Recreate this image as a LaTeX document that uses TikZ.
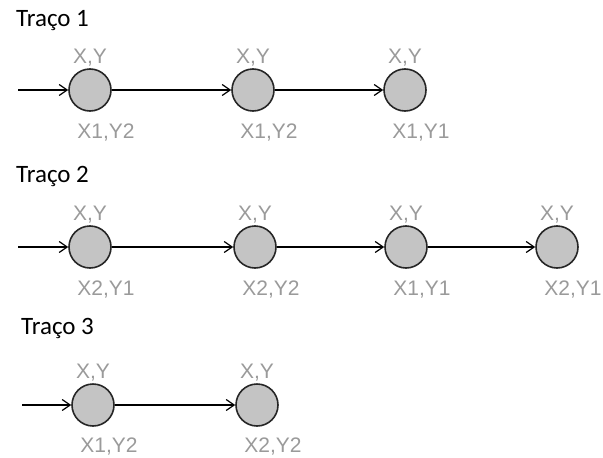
\documentclass[tikz,border=0pt]{standalone}
\usepackage{fontspec}
\setmainfont{Liberation Sans}
\newfontfamily\lblfont{Liberation Sans}
\newfontfamily\titlefont{Carlito}
\usetikzlibrary{arrows.meta}
\definecolor{labelgray}{HTML}{9A9A9A}
\definecolor{statefill}{HTML}{C4C4C4}
\begin{document}
\begin{tikzpicture}[x=1pt,y=-1pt,
  state/.style={circle,draw=black!85,line width=1.6pt,fill=statefill,minimum size=42pt,inner sep=0pt},
  lbl/.style={text=labelgray,font=\lblfont\fontsize{21}{21}\selectfont,inner sep=0pt},
  ttl/.style={font=\titlefont\fontsize{25}{25}\selectfont,inner sep=0pt,anchor=west},
  flow/.style={line width=1.2pt,-{Straight Barb[length=8pt,width=11pt,line width=1.2pt]}}]
\useasboundingbox (0,0) rectangle (603,458);

% Traço 1
\node[ttl] (t1) at (16,21) {Traço 1};
\coordinate (i1) at (18,90);
\foreach \n/\x/\b in {a/90/{X1,Y2}, b/253/{X1,Y2}, c/405/{X1,Y1}} {
  \node[state] (r1\n) at (\x,90) {};
  \node[lbl] (r1\n t) at (\x,58) {X,Y};
  \node[lbl] (r1\n b) at (\x+16,133) {\b};
}
\draw[flow] (i1) -- (r1a);
\draw[flow] (r1a) -- (r1b);
\draw[flow] (r1b) -- (r1c);

% Traço 2
\node[ttl] (t2) at (16,176) {Traço 2};
\coordinate (i2) at (18,247);
\foreach \n/\x/\b in {a/90/{X2,Y1}, b/255/{X2,Y2}, c/406/{X1,Y1}, d/557/{X2,Y1}} {
  \node[state] (r2\n) at (\x,247) {};
  \node[lbl] (r2\n t) at (\x,215) {X,Y};
  \node[lbl] (r2\n b) at (\x+16,290) {\b};
}
\draw[flow] (i2) -- (r2a);
\draw[flow] (r2a) -- (r2b);
\draw[flow] (r2b) -- (r2c);
\draw[flow] (r2c) -- (r2d);

% Traço 3
\node[ttl] (t3) at (21,328) {Traço 3};
\coordinate (i3) at (22,405);
\foreach \n/\x/\b in {a/93/{X1,Y2}, b/257/{X2,Y2}} {
  \node[state] (r3\n) at (\x,405) {};
  \node[lbl] (r3\n t) at (\x,373) {X,Y};
  \node[lbl] (r3\n b) at (\x+16,447) {\b};
}
\draw[flow] (i3) -- (r3a);
\draw[flow] (r3a) -- (r3b);
\end{tikzpicture}
\end{document}
